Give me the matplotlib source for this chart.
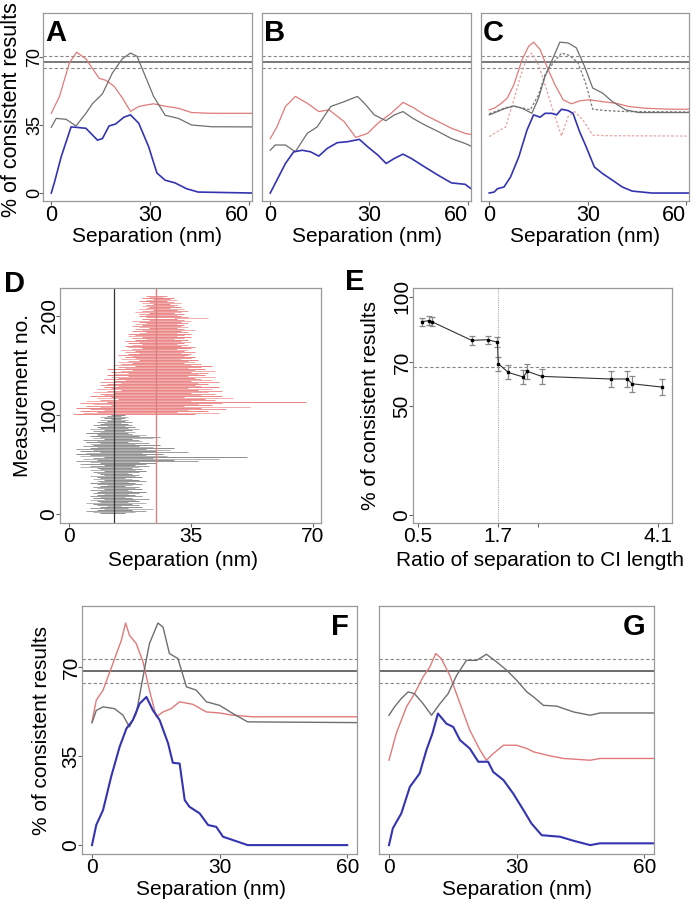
import numpy as np
import matplotlib
matplotlib.use("Agg")
import matplotlib.pyplot as plt

plt.rcParams['font.family'] = ['Liberation Sans', 'DejaVu Sans']

# ---------------- data ----------------
# panel A
a_red_x = [0, 2.5, 5.5, 7.7, 10.5, 14.5, 16.5, 19, 21.5, 24, 26.5, 28.5, 31, 34, 38.5, 42.5, 48.5, 61]
a_red_y = [41, 49.7, 67, 72.4, 69, 59, 58, 55, 49, 42, 44.5, 45.2, 45.9, 44.8, 43.6, 41.4, 41, 41]
a_gray_x = [0, 1.5, 4.5, 7.5, 10.5, 12.5, 15.5, 18.5, 21.5, 24, 26, 28.5, 31, 34.5, 38.5, 42.5, 48.5, 61]
a_gray_y = [33.8, 38.4, 37.9, 34.5, 41, 46, 51, 61.7, 69, 72, 70.3, 60, 49.7, 40, 38.4, 35, 34.1, 34]
a_blue_x = [0, 1, 3, 6, 7.5, 10.5, 14, 15.5, 17.5, 19.5, 22, 24, 26.5, 29.5, 32, 34.5, 37.5, 41, 44.5, 61]
a_blue_y = [0, 5.7, 18.6, 34, 33.8, 33.3, 27.2, 28, 34.5, 35.5, 39, 40.2, 35.9, 23.8, 10.3, 6.6, 5.2, 2.2, 0.5, 0]

# panel B
b_red_x = [0, 2, 4.6, 7.6, 11.2, 14.7, 17.8, 22.4, 25.9, 29.5, 32.6, 36.6, 40.2, 43.2, 46.8, 50.9, 54.9, 59, 61]
b_red_y = [28, 34, 44.5, 49.7, 46.2, 41.9, 42.8, 36.7, 28.6, 30.7, 35.9, 41, 46.6, 44.1, 40.2, 36.7, 33.3, 30.7, 30]
b_gray_x = [0, 1.5, 4.6, 7.6, 11.2, 14.2, 18.3, 22.4, 26.4, 28.5, 31.5, 35, 37.6, 40.2, 43.2, 46.8, 50.9, 54.9, 59, 61]
b_gray_y = [22, 24.7, 24.7, 21.2, 30.7, 34, 44.5, 47, 49.7, 46.2, 40.2, 37.2, 40.2, 41.9, 38.4, 35, 31.6, 28, 25.5, 24]
b_blue_x = [0, 2, 4.6, 7.1, 9.7, 12.2, 14.7, 17.3, 20.3, 23.4, 27, 29.5, 32.6, 35.1, 37.6, 40.2, 42.7, 46.8, 50.9, 54.9, 59, 61]
b_blue_y = [0, 6.6, 15.2, 21.2, 22, 21.2, 19, 23, 25.9, 26.4, 27.6, 23.8, 19.5, 15.2, 17.8, 20, 17.8, 13.4, 9.1, 5.2, 4.5, 2]

# panel C (solid = first set, dashed = second set)
c_red_x = [0, 1.5, 3.5, 5.5, 7.5, 10, 12, 13.5, 15.5, 17.5, 20, 22.5, 25, 27.5, 30.5, 34.5, 38.5, 42.5, 47.5, 55.5, 61]
c_red_y = [42.8, 43.6, 45.9, 48.8, 55.7, 68.6, 75.5, 77.6, 73.8, 65.2, 55.7, 48, 45.9, 47.4, 48, 47, 46.2, 44.5, 43.6, 43.1, 43.1]
c_red2_x = [0, 2.5, 5, 7.5, 9.5, 11.5, 13, 15, 17.5, 20, 22, 24, 26, 28.5, 31.5, 35.5, 61]
c_red2_y = [29, 31.6, 34, 48, 60, 69.5, 72, 66, 53, 39.3, 29.3, 39.3, 41.9, 37.6, 29.8, 29.5, 29.3]
c_gray_x = [0, 2.5, 5, 7.5, 10, 13, 15, 17, 19, 21.5, 24, 26.5, 29, 31.5, 34.5, 37.5, 41.5, 45.5, 61]
c_gray_y = [40.2, 41.9, 43.6, 44.8, 43.6, 41, 48.8, 60, 67.8, 77.6, 77.2, 74.7, 65.2, 54, 51.4, 47, 42.8, 41.4, 41.4]
c_gray2_x = [0, 2.5, 5, 7.5, 10, 12.5, 15, 17, 19.5, 22, 24.5, 27, 29.5, 31.5, 35.5, 41.5, 61]
c_gray2_y = [40.8, 42.3, 43.9, 44.6, 43.8, 42.8, 50.5, 61, 67, 72, 70.7, 67, 55.7, 43.1, 42.4, 41.9, 41.7]
c_blue_x = [0, 1.5, 2.5, 4.5, 6.5, 9, 11.5, 13.5, 15.5, 17, 19, 20.5, 22, 24, 25.5, 27.5, 29.5, 32, 34.5, 37.5, 40.5, 43.5, 49.5, 61]
c_blue_y = [0, 0.5, 2.2, 3.1, 8.3, 18.6, 32.4, 40.2, 39, 41, 41, 40.2, 43.1, 42.4, 41, 31.6, 23.8, 13.4, 10, 6.6, 3.1, 1, 0, 0]

# panel D: confidence intervals per measurement
d_gray_lo = [9, 7, 5, 8, 10, 6, 9, 11, 8, 7,
             5, 9, 8, 6, 10, 7, 9, 6, 8, 10,
             7, 8, 9, 6, 10, 8, 7, 9, 11, 8,
             6, 9, 8, 10, 7, 9, 8, 6, 10, 9,
             8, 7, 10, 6, 9, 8, 3, 6, 10, 5,
             3, 9, 6, 2, 8, 4, 7, 10, 3, 6,
             2, 5, 9, 3, 7, 2, 6, 8, 4, 7,
             6, 9, 5, 8, 4, 10, 7, 9, 6, 8,
             8, 5, 9, 7, 10, 6, 9, 8, 11, 7,
             9, 10, 8, 11, 9, 12, 10, 9, 11, 12]
d_gray_hi = [16, 19, 22, 18, 24, 17, 21, 15, 20, 18,
             22, 17, 20, 19, 23, 18, 16, 21, 19, 17,
             20, 22, 18, 17, 21, 19, 20, 16, 18, 21,
             19, 17, 22, 20, 18, 16, 21, 19, 20, 18,
             17, 20, 22, 19, 21, 18, 20, 23, 19, 21,
             22, 25, 20, 37, 30, 43, 24, 51, 28, 22,
             27, 21, 34, 25, 29, 22, 30, 24, 20, 26,
             19, 23, 17, 21, 20, 18, 24, 26, 20, 22,
             18, 17, 19, 16, 18, 20, 17, 19, 16, 18,
             17, 15, 18, 16, 17, 15, 16, 17, 15, 16]
d_red_lo = [1, 4, 8, 3, 10, 6, 2, 9, 5, 12,
            7, 3, 11, 5, 9, 14, 8, 12, 6, 10,
            9, 13, 7, 11, 15, 8, 12, 10, 14, 9,
            11, 15, 9, 13, 16, 10, 14, 12, 17, 11,
            13, 17, 12, 15, 18, 11, 16, 14, 19, 13,
            15, 18, 14, 17, 20, 15, 19, 16, 18, 14,
            17, 20, 16, 19, 15, 18, 21, 17, 20, 16,
            18, 21, 17, 20, 16, 19, 22, 18, 21, 17,
            19, 17, 20, 22, 18, 21, 19, 23, 20, 18,
            21, 19, 22, 20, 18, 23, 21, 30, 22, 20,
            22, 20, 23, 19, 21, 24, 20, 22, 23, 21,
            22, 24, 21, 23, 20, 22, 24, 21, 23, 22]
d_red_hi = [36, 43, 31, 40, 34, 45, 38, 52, 33, 41,
            37, 44, 68, 35, 42, 39, 47, 33, 44, 38,
            42, 35, 40, 44, 37, 41, 34, 43, 38, 36,
            40, 37, 43, 35, 41, 38, 36, 42, 34, 39,
            37, 40, 35, 42, 36, 39, 34, 38, 41, 35,
            38, 33, 36, 34, 37, 32, 35, 36, 33, 34,
            35, 32, 36, 33, 34, 31, 35, 33, 36, 32,
            34, 31, 33, 35, 32, 34, 30, 33, 35, 31,
            33, 35, 31, 34, 32, 36, 33, 31, 34, 32,
            33, 31, 34, 32, 35, 33, 31, 40, 34, 32,
            31, 33, 30, 32, 34, 31, 33, 29, 32, 30,
            31, 29, 32, 30, 28, 31, 29, 30, 27, 28]
d_gray_median = 12.9
d_red_median = 25.0

# panel E
e_ratio = [0.555, 0.67, 0.705, 1.305, 1.545, 1.69, 1.705, 1.855, 2.08, 2.14, 2.355, 3.39, 3.64, 3.71, 4.16]
e_pct = [88.5, 89.1, 88.6, 80.0, 80.3, 79.2, 69.3, 65.3, 63.2, 65.8, 63.5, 62.3, 62.3, 60.1, 58.6]
e_err = [1.9, 2.1, 2.0, 1.9, 1.9, 2.3, 3.3, 3.2, 3.4, 3.3, 3.6, 3.7, 3.7, 3.7, 3.8]

# panel F
f_red_x = [0, 1, 2.6, 4.9, 6.9, 7.9, 8.8, 10.4, 12, 13.5, 15.1, 16.7, 18.6, 20.6, 23.7, 26.9, 30, 33.1, 37.8, 63]
f_red_y = [48.5, 57, 61, 71.4, 80.6, 87.4, 82.6, 79.3, 72.1, 61, 50.5, 52.4, 53.7, 56.4, 55.4, 52.4, 52, 51.1, 50.5, 50.5]
f_gray_x = [0, 1, 2.6, 5.3, 7.3, 8.8, 10.4, 12, 13.5, 15.5, 16.7, 18.2, 20.2, 22.2, 24.5, 26.9, 30, 33.1, 36.6, 63]
f_gray_y = [48.1, 53, 54.4, 53.7, 51.1, 46.5, 51.8, 66.2, 79.3, 87.4, 85.8, 75.4, 73.4, 62.3, 61, 56.4, 55, 51.8, 48.5, 48.2]
f_blue_x = [0, 1, 2.6, 4.5, 6.5, 8.1, 9.6, 11.2, 12.8, 14.3, 15.9, 17.9, 19, 20.6, 21.8, 22.9, 25.3, 27.3, 29.2, 30.8, 33.1, 36.6, 60]
f_blue_y = [0, 7.9, 13.8, 26.9, 38.7, 45.9, 49.2, 55.7, 58.3, 53.1, 49.2, 40, 32.4, 32.1, 17.7, 15.1, 12.5, 7.9, 7.2, 3.3, 2, 0, 0]

# panel G
g_red_x = [0, 1.7, 4.1, 6, 8, 9.6, 11, 12.3, 14.3, 16.7, 19, 21.4, 22.9, 24.5, 26.9, 30, 32.4, 34, 37.1, 41, 47.3, 49.6, 63]
g_red_y = [33.4, 43.9, 54.4, 59.6, 66.2, 70.1, 75.4, 73.4, 66.8, 55.7, 45.2, 37.4, 33.4, 36, 39.3, 39.3, 38, 36.7, 35.4, 34.1, 33.4, 34.1, 34.1]
g_gray_x = [0, 1.3, 2.9, 4.5, 6, 8, 10, 12, 13.9, 15.9, 18.2, 20.6, 22.9, 25.3, 27.7, 30, 32.4, 34, 36.3, 39.4, 43.4, 47.3, 49.6, 63]
g_gray_y = [51.1, 54.4, 57.7, 60.3, 59.6, 55.7, 51.1, 55.7, 59.6, 66.8, 72.7, 72.7, 75.1, 72.1, 68.8, 64.9, 60.3, 58.3, 55, 54.7, 52.4, 51.1, 52, 52]
g_blue_x = [0, 0.9, 2.9, 4.9, 7.2, 8.8, 10.2, 11.5, 13.5, 15.1, 16.7, 19, 21, 23.3, 24.5, 26.9, 29.2, 31.6, 33.5, 35.9, 40.2, 43.4, 47.3, 49.6, 63]
g_blue_y = [0, 6.6, 12.5, 22.9, 28.2, 37.4, 43.9, 51.8, 47.8, 46.5, 41.3, 38, 32.8, 32.8, 28.8, 25.6, 20.3, 13.8, 8.5, 3.9, 3.3, 1.7, 0, 0.7, 0.7]

# reference levels (solid, upper dashed, lower dashed)
abc_levels = [67.4, 70.5, 64.3]
fg_levels = [68.5, 73.2, 63.8]

# ---------------- drawing ----------------
W, H = 696, 905
RED = '#e07a7a'
GRAY = '#6e6e6e'
BLUE = '#3434b0'
fig = plt.figure(figsize=(W / 100, H / 100), dpi=100)


def px_axes(x0, y0, x1, y1):
    return fig.add_axes([x0 / W, 1 - y1 / H, (x1 - x0) / W, (y1 - y0) / H])


def ftext(x, y, s, **kw):
    fig.text(x / W, 1 - y / H, s, **kw)


def style(ax, xfs, yfs, ypad=-2, right_last=False):
    for sp in ax.spines.values():
        sp.set_color('#999999')
        sp.set_linewidth(0.9)
    ax.tick_params(axis='x', length=3, width=0.8, color='#666666', labelsize=xfs, pad=0)
    ax.tick_params(axis='y', length=3, width=0.8, color='#666666', labelsize=yfs, pad=ypad)
    for t in ax.get_yticklabels():
        t.set_rotation(90)
        t.set_va('center')
    if right_last:
        ax.get_xticklabels()[-1].set_ha('right')


def levels(ax, lv, solid='#555555'):
    ax.axhline(lv[0], color=solid, lw=1.1)
    ax.axhline(lv[1], color='#888888', lw=0.8, ls=(0, (3, 2)))
    ax.axhline(lv[2], color='#888888', lw=0.8, ls=(0, (3, 2)))


# row A-C
abc_boxes = [(43, 13, 252, 201), (262, 13, 471, 201), (481, 13, 689, 201)]
abc_series = [
    [(a_red_x, a_red_y, RED, '-'), (a_gray_x, a_gray_y, GRAY, '-'), (a_blue_x, a_blue_y, BLUE, '-')],
    [(b_red_x, b_red_y, RED, '-'), (b_gray_x, b_gray_y, GRAY, '-'), (b_blue_x, b_blue_y, BLUE, '-')],
    [(c_red2_x, c_red2_y, '#e9a3a3', (0, (2, 1.5))), (c_gray2_x, c_gray2_y, '#777777', (0, (2, 1.5))),
     (c_red_x, c_red_y, RED, '-'), (c_gray_x, c_gray_y, GRAY, '-'), (c_blue_x, c_blue_y, BLUE, '-')],
]
for i, (box, series, letter) in enumerate(zip(abc_boxes, abc_series, 'ABC')):
    ax = px_axes(*box)
    levels(ax, abc_levels)
    for xs, ys, col, ls in series:
        ax.plot(xs, ys, color=col, lw=1.2 if col == BLUE else 0.9, ls=ls)
    ax.set_xlim(-2.5, 60.8)
    ax.set_ylim(-4.1, 92.6)
    ax.set_xticks([0, 30, 60])
    if i == 0:
        ax.set_yticks([0, 35, 70])
    else:
        ax.set_yticks([])
    style(ax, 15.5, 13, ypad=-3, right_last=True)
    ax.text(0.01, 0.97, letter, transform=ax.transAxes, fontsize=21, fontweight='bold', va='top', ha='left')
    ftext((box[0] + box[2]) / 2, 236, 'Separation (nm)', fontsize=15, ha='center', va='center')
ftext(12, 110, '% of consistent results', fontsize=15.5, rotation=90, ha='center', va='center')

# panel D
ax = px_axes(60, 288, 321, 523)
gray_m = np.arange(1, len(d_gray_lo) + 1)
red_m = np.arange(len(d_gray_lo) + 1, len(d_gray_lo) + len(d_red_lo) + 1)
gray_cols = ['#7a7a7a', '#a8a8a8', '#8e8e8e']
red_cols = ['#e87070', '#f0a0a0', '#e98585']
ax.hlines(gray_m, d_gray_lo, d_gray_hi, colors=[gray_cols[k % 3] for k in range(len(gray_m))], lw=0.6)
ax.hlines(red_m, d_red_lo, d_red_hi, colors=[red_cols[k % 3] for k in range(len(red_m))], lw=0.6)
ax.axvline(d_gray_median, color='#333333', lw=0.9)
ax.axvline(d_red_median, color='#d98080', lw=1.0)
ax.set_xlim(-2.6, 72.3)
ax.set_ylim(-9, 228)
ax.set_xticks([0, 35, 70])
ax.set_yticks([0, 100, 200])
style(ax, 15, 15)
ftext(4, 270, 'D', fontsize=21, fontweight='bold', ha='left', va='top')
ftext(23, 395, 'Measurement no.', fontsize=15, rotation=90, ha='center', va='center')
ftext(183, 561, 'Separation (nm)', fontsize=15, ha='center', va='center')

# panel E
ax = px_axes(413, 288, 672, 523)
ax.axhline(67.6, color='#888888', lw=0.8, ls=(0, (3, 2)))
ax.axvline(1.7, color='#aaaaaa', lw=0.8, ls=(0, (1, 1)))
ax.errorbar(e_ratio, e_pct, yerr=e_err, color='#333333', lw=0.8, marker='s', ms=2,
            mfc='black', mec='black', ecolor='#888888', elinewidth=0.9, capsize=2, capthick=0.9)
ax.set_xlim(0.425, 4.31)
ax.set_ylim(-3.7, 104)
ax.set_xticks([0.5, 1.7, 2.3, 4.1])
ax.set_xticklabels(['0.5', '1.7', '', '4.1'])
ax.set_yticks([0, 50, 70, 100])
style(ax, 15, 15)
ftext(345, 268, 'E', fontsize=21, fontweight='bold', ha='left', va='top')
ftext(371, 405, '% of consistent results', fontsize=15, rotation=90, ha='center', va='center')
ftext(540, 561, 'Ratio of separation to CI length', fontsize=15, ha='center', va='center')

# panels F and G
fg_boxes = [(82, 606, 357, 854), (379, 606, 654, 854)]
fg_label_x = [211, 517]
fg_series = [
    [(f_red_x, f_red_y, RED), (f_gray_x, f_gray_y, GRAY), (f_blue_x, f_blue_y, BLUE)],
    [(g_red_x, g_red_y, RED), (g_gray_x, g_gray_y, GRAY), (g_blue_x, g_blue_y, BLUE)],
]
for i, (box, series, letter) in enumerate(zip(fg_boxes, fg_series, 'FG')):
    ax = px_axes(*box)
    levels(ax, fg_levels, solid='#444444')
    for xs, ys, col in series:
        ax.plot(xs, ys, color=col, lw=1.5 if col == BLUE else 1.0)
    ax.set_xlim(-2.35, 62.3)
    ax.set_ylim(-3.5, 94.1)
    ax.set_xticks([0, 30, 60])
    if i == 0:
        ax.set_yticks([0, 35, 70])
    else:
        ax.set_yticks([])
    style(ax, 15, 15)
    ax.text(0.97, 0.97, letter, transform=ax.transAxes, fontsize=21, fontweight='bold', va='top', ha='right')
    ftext(fg_label_x[i], 889, 'Separation (nm)', fontsize=15, ha='center', va='center')
ftext(42, 730, '% of consistent results', fontsize=15, rotation=90, ha='center', va='center')

fig.savefig('out.png', dpi=100)
